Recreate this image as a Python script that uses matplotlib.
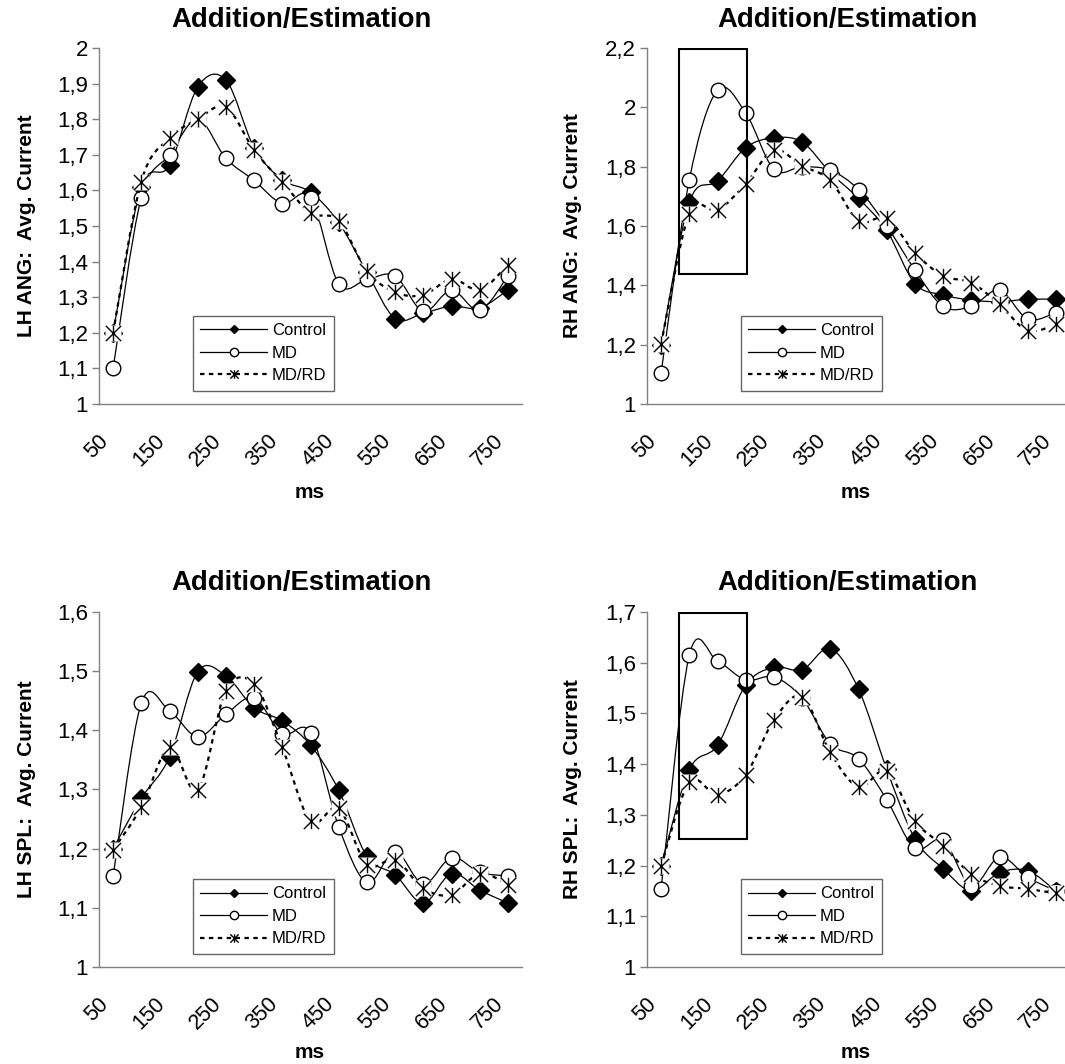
import numpy as np
import matplotlib
matplotlib.use('Agg')
import matplotlib.pyplot as plt
from matplotlib.path import Path
from matplotlib.patches import PathPatch, Rectangle
from matplotlib.lines import Line2D
from matplotlib.ticker import FuncFormatter
from matplotlib.transforms import ScaledTranslation

plt.rcParams['font.family'] = ['Liberation Sans', 'DejaVu Sans']

# time points (ms), one category each
ms_values = [50, 100, 150, 200, 250, 300, 350, 400, 450, 500, 550, 600, 650, 700, 750]
tick_labels = ['50', '150', '250', '350', '450', '550', '650', '750']
series_names = ['Control', 'MD', 'MD/RD']

# LH ANG
lh_ang_control = [1.20, 1.61, 1.67, 1.89, 1.91, 1.72, 1.63, 1.595, 1.51, 1.37, 1.24, 1.255, 1.275, 1.27, 1.32]
lh_ang_md      = [1.10, 1.58, 1.70, 1.80, 1.69, 1.628, 1.563, 1.58, 1.338, 1.35, 1.36, 1.26, 1.32, 1.263, 1.36]
lh_ang_mdrd    = [1.20, 1.625, 1.747, 1.80, 1.834, 1.713, 1.623, 1.537, 1.515, 1.373, 1.314, 1.306, 1.351, 1.321, 1.39]

# RH ANG
rh_ang_control = [1.20, 1.68, 1.751, 1.864, 1.897, 1.883, 1.78, 1.693, 1.585, 1.406, 1.368, 1.35, 1.345, 1.353, 1.353]
rh_ang_md      = [1.104, 1.755, 2.058, 1.981, 1.791, 1.80, 1.788, 1.723, 1.60, 1.452, 1.329, 1.329, 1.384, 1.286, 1.308]
rh_ang_mdrd    = [1.202, 1.642, 1.653, 1.742, 1.856, 1.802, 1.754, 1.617, 1.626, 1.51, 1.432, 1.409, 1.336, 1.247, 1.269]

# LH SPL
lh_spl_control = [1.20, 1.285, 1.355, 1.499, 1.492, 1.438, 1.416, 1.375, 1.299, 1.187, 1.156, 1.108, 1.158, 1.13, 1.108]
lh_spl_md      = [1.153, 1.446, 1.433, 1.389, 1.427, 1.455, 1.394, 1.396, 1.237, 1.143, 1.195, 1.14, 1.185, 1.16, 1.154]
lh_spl_mdrd    = [1.198, 1.27, 1.371, 1.299, 1.467, 1.478, 1.371, 1.246, 1.268, 1.173, 1.181, 1.133, 1.122, 1.158, 1.139]

# RH SPL
rh_spl_control = [1.20, 1.389, 1.437, 1.556, 1.591, 1.586, 1.628, 1.548, 1.39, 1.253, 1.194, 1.15, 1.186, 1.19, 1.15]
rh_spl_md      = [1.154, 1.615, 1.603, 1.566, 1.572, 1.53, 1.44, 1.411, 1.33, 1.234, 1.25, 1.16, 1.217, 1.177, 1.15]
rh_spl_mdrd    = [1.20, 1.364, 1.34, 1.379, 1.487, 1.533, 1.423, 1.355, 1.386, 1.288, 1.239, 1.183, 1.16, 1.154, 1.145]

W, H = 1065, 1064
fig = plt.figure(figsize=(W / 100, H / 100), dpi=100)

# asterisk marker: X plus a vertical bar
star = Path([(-1, -1), (1, 1), (-1, 1), (1, -1), (0, -1), (0, 1)],
            [Path.MOVETO, Path.LINETO, Path.MOVETO, Path.LINETO, Path.MOVETO, Path.LINETO])

styles = [
    dict(marker='D', ms=8.8, mfc='black', mec='black', ls='-', lw=0.9, bg=False),
    dict(marker='o', ms=10.5, mfc='white', mec='black', ls='-', lw=0.9, bg=False),
    dict(marker=star, ms=11, mfc='none', mec='black', ls=(0, (2, 2)), lw=1.6, bg=True),
]


def smooth_line(ax, y, ls, lw, z):
    # excel style smoothed line (bezier through the points)
    pts = np.column_stack([np.arange(len(y)), y]).astype(float)
    verts = [pts[0]]
    codes = [Path.MOVETO]
    n = len(pts)
    for i in range(n - 1):
        p0 = pts[max(i - 1, 0)]
        p1 = pts[i]
        p2 = pts[i + 1]
        p3 = pts[min(i + 2, n - 1)]
        verts += [p1 + (p2 - p0) / 6, p2 - (p3 - p1) / 6, p2]
        codes += [Path.CURVE4] * 3
    ax.add_patch(PathPatch(Path(verts, codes), fill=False, edgecolor='black',
                           linestyle=ls, linewidth=lw, zorder=z, capstyle='butt'))


def yfmt(v, pos):
    s = ('%.1f' % v).rstrip('0').rstrip('.')
    return s.replace('.', ',')


def make_panel(px_left, px_top, px_bottom, ymax, ystep, data, ylabel, title_x, title_y,
               ylabel_x, ms_x, ms_y, box=None):
    ax = fig.add_axes([px_left / W, 1 - px_bottom / H, 423 / W, (px_bottom - px_top) / H])
    for k, (vals, st) in enumerate(zip(data, styles)):
        z = 2 + 3 * k
        smooth_line(ax, vals, st['ls'], st['lw'], z)
        if st['bg']:
            # the excel asterisk marker has a white background square
            ax.plot(range(len(vals)), vals, ls='none', marker='s', ms=st['ms'] * 1.05,
                    mfc='white', mec='none', zorder=z + 1, clip_on=False)
        ax.plot(range(len(vals)), vals, ls='none', marker=st['marker'], ms=st['ms'],
                mfc=st['mfc'], mec=st['mec'], mew=1.0, zorder=z + 2, clip_on=False)
    ax.set_xlim(-0.5, len(ms_values) - 0.5)
    ax.set_ylim(1, ymax)
    ax.set_yticks(np.arange(1, ymax + 1e-9, ystep))
    ax.yaxis.set_major_formatter(FuncFormatter(yfmt))
    ax.set_xticks(range(0, len(ms_values), 2))
    ax.set_xticklabels(tick_labels, rotation=45, ha='right', va='top')
    off = ScaledTranslation(-8 / 100, 0, fig.dpi_scale_trans)
    for lab in ax.get_xticklabels():
        lab.set_transform(lab.get_transform() + off)
    ax.tick_params(axis='x', length=0, pad=19, labelsize=15.5)
    ax.tick_params(axis='y', direction='out', length=5, width=1, color='#808080', labelsize=16, pad=3)
    for side in ['top', 'right']:
        ax.spines[side].set_visible(False)
    for side in ['left', 'bottom']:
        ax.spines[side].set_color('#808080')
        ax.spines[side].set_linewidth(1)

    if box is not None:
        ax.add_patch(Rectangle((box[0], box[2]), box[1] - box[0], box[3] - box[2],
                               fill=False, edgecolor='black', lw=1.5, zorder=12))

    handles = [
        Line2D([], [], color='black', lw=0.9, marker='D', ms=4.5, mfc='black', mec='black'),
        Line2D([], [], color='black', lw=0.9, marker='o', ms=6, mfc='white', mec='black'),
        Line2D([], [], color='black', lw=1.6, ls=(0, (2, 2)), marker=star, ms=6, mec='black'),
    ]
    leg = ax.legend(handles, series_names, loc='lower left', bbox_to_anchor=(0.222, 0.037),
                    borderaxespad=0, fancybox=False, frameon=True, fontsize=12,
                    handlelength=4.0, handletextpad=0.3, labelspacing=0.45, borderpad=0.45)
    leg.get_frame().set_edgecolor('#404040')
    leg.get_frame().set_linewidth(1)
    leg.set_zorder(20)

    fig.text(title_x / W, 1 - title_y / H, 'Addition/Estimation', ha='center', va='center',
             fontsize=19.8, fontweight='bold')
    fig.text(ylabel_x / W, 1 - (px_top + px_bottom) / 2 / H, ylabel, rotation=90,
             ha='center', va='center', fontsize=15, fontweight='bold')
    fig.text(ms_x / W, 1 - ms_y / H, 'ms', ha='center', va='center', fontsize=15, fontweight='bold')
    return ax


make_panel(99, 48, 404, 2.0, 0.1, [lh_ang_control, lh_ang_md, lh_ang_mdrd],
           'LH ANG:  Avg. Current', 301, 20, 27, 310, 492)
make_panel(647, 48, 404, 2.2, 0.2, [rh_ang_control, rh_ang_md, rh_ang_mdrd],
           'RH ANG:  Avg. Current', 848, 20, 572, 856, 492, box=(0.63, 3.05, 1.437, 2.197))
make_panel(99, 612, 967, 1.6, 0.1, [lh_spl_control, lh_spl_md, lh_spl_mdrd],
           'LH SPL:  Avg. Current', 301, 583, 27, 310, 1052)
make_panel(647, 612, 967, 1.7, 0.1, [rh_spl_control, rh_spl_md, rh_spl_mdrd],
           'RH SPL:  Avg. Current', 848, 583, 572, 856, 1052, box=(0.63, 3.05, 1.252, 1.698))

fig.savefig('out.png', dpi=100)
plt.close()
